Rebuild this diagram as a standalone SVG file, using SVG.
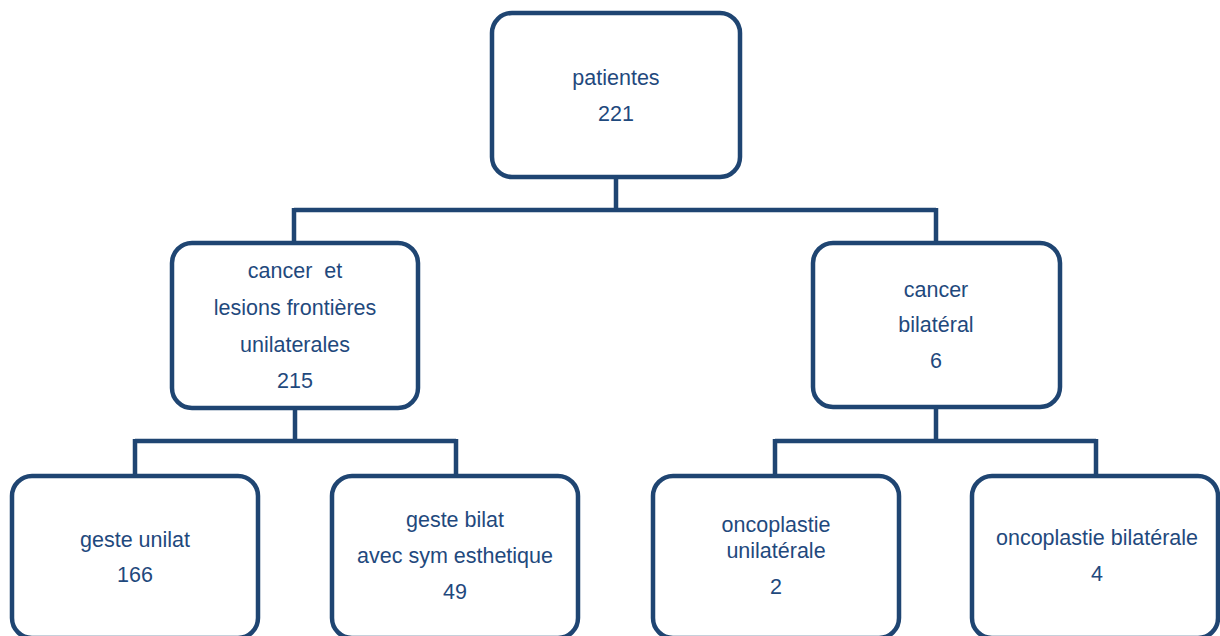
<svg xmlns="http://www.w3.org/2000/svg" width="1220" height="636" viewBox="0 0 1220 636">
<style>
.box{fill:#fff;stroke:#1f4572;stroke-width:4.5}
.ln{fill:none;stroke:#1f4572;stroke-width:4.5}
text{font-family:"Liberation Sans",Arial,sans-serif;font-size:21.5px;fill:#1f497d;text-anchor:middle;white-space:pre}
</style>
<rect width="1220" height="636" fill="#fff"/>
<g id="connectors">
<path class="ln" d="M616 177V210M294 210H936M294 208V243M936 208V243"/>
<path class="ln" d="M295 408V441M135 441H456M135 439V476M456 439V476"/>
<path class="ln" d="M936 407V441M775 441H1096M775 439V476M1096 439V476"/>
</g>
<g id="n-patientes">
<rect class="box" x="492" y="13" width="248" height="164" rx="20"/>
<text x="616" y="85">patientes</text>
<text x="616" y="121">221</text>
</g>
<g id="n-unilat">
<rect class="box" x="172" y="243" width="246" height="165" rx="20"/>
<text x="295" y="278" xml:space="preserve">cancer  et</text>
<text x="295" y="315">lesions frontières</text>
<text x="295" y="352">unilaterales</text>
<text x="295" y="388">215</text>
</g>
<g id="n-bilat">
<rect class="box" x="813" y="243" width="247" height="164" rx="20"/>
<text x="936" y="297">cancer</text>
<text x="936" y="332">bilatéral</text>
<text x="936" y="368">6</text>
</g>
<g id="n-geste-unilat">
<rect class="box" x="12" y="476" width="246" height="162" rx="20"/>
<text x="135" y="547">geste unilat</text>
<text x="135" y="582">166</text>
</g>
<g id="n-geste-bilat">
<rect class="box" x="332" y="476" width="246" height="162" rx="20"/>
<text x="455" y="527">geste bilat</text>
<text x="455" y="563">avec sym esthetique</text>
<text x="455" y="599">49</text>
</g>
<g id="n-onco-unilat">
<rect class="box" x="653" y="476" width="246" height="162" rx="20"/>
<text x="776" y="532">oncoplastie</text>
<text x="776" y="558">unilatérale</text>
<text x="776" y="594">2</text>
</g>
<g id="n-onco-bilat">
<rect class="box" x="972" y="476" width="246" height="162" rx="20"/>
<text x="1097" y="545">oncoplastie bilatérale</text>
<text x="1097" y="581">4</text>
</g>
</svg>
